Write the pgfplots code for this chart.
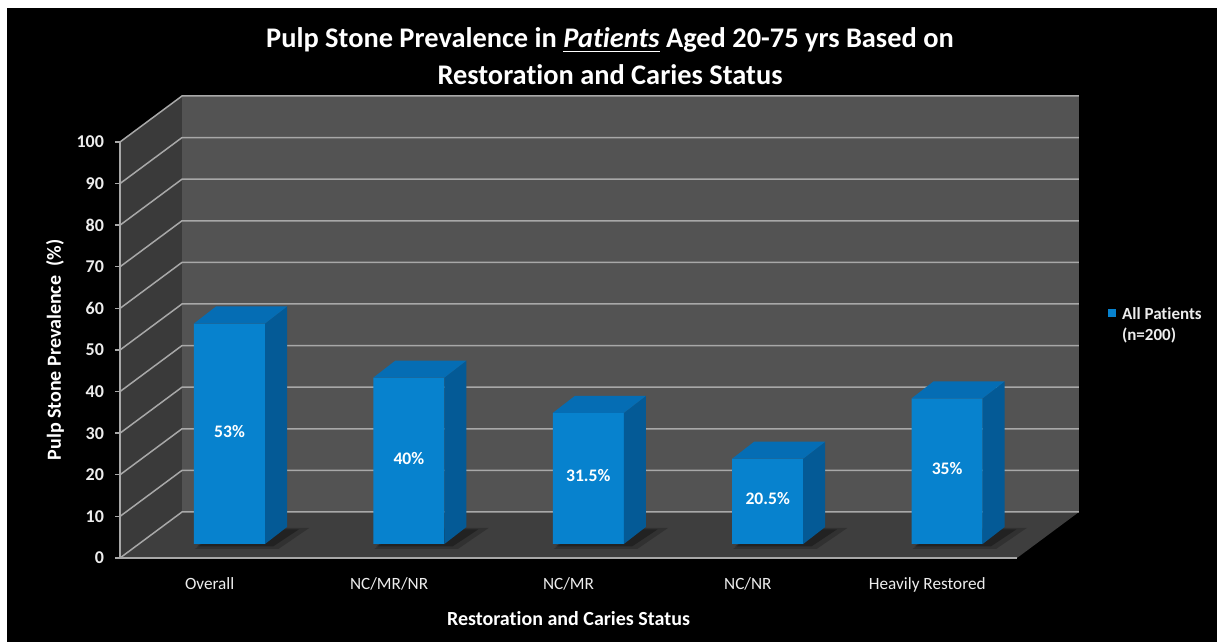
\documentclass[border=0pt]{standalone}
\usepackage{pgfplots}
\pgfplotsset{compat=1.18}
\usepackage{pgfplotstable}
\usepackage{fontspec}
\setmainfont{Carlito}[Ligatures=NoCommon]

\definecolor{wallback}{HTML}{535353}
\definecolor{wallside}{HTML}{3A3A3A}
\definecolor{floorc}{HTML}{3E3E3E}
\definecolor{gridc}{HTML}{A8A8A8}
\definecolor{barfront}{HTML}{0782CE}
\definecolor{bartop}{HTML}{056DB4}
\definecolor{barside}{HTML}{045A96}
\definecolor{ticktext}{HTML}{EDEDED}

% prevalence (%) per restoration / caries group
\pgfplotstableread{
idx v
0 53
1 40
2 31.5
3 20.5
4 35
}\prevalence

% unit vertex lists for the side face, top face and floor shadow of a bar
\pgfplotstableread{
a t
0 0
1 0
1 1
0 1
}\sideface
\pgfplotstableread{
s a
-1 0
1 0
1 1
-1 1
}\topface

\newcommand\hw{0.198}   % half bar width (axis units)
\newcommand\ddx{0.1226} % bar depth, x (axis units)
\newcommand\ddy{4.09}   % bar depth, y (axis units)

% side and top face of bar #2 with value #1
\newcommand\barfaces[2]{%
  \addplot[fill=barside, draw=none, forget plot]
    table[x expr={#2+\hw+\thisrow{a}*\ddx},
          y expr={\thisrow{a}*\ddy+\thisrow{t}*#1}] {\sideface};
  \addplot[fill=bartop, draw=none, forget plot]
    table[x expr={#2+\thisrow{s}*\hw+\thisrow{a}*\ddx},
          y expr={#1+\thisrow{a}*\ddy}] {\topface};
}

\begin{document}
\begin{tikzpicture}[x=0.5pt,y=0.5pt]
\path[use as bounding box] (0,0) rectangle (1217,642);
\fill[white] (0,0) rectangle (1217,642);
\fill[black] (7,0) rectangle (1217,634);

% front plane: walls, floor, value axis and category names
\begin{axis}[
  at={(60pt,42pt)}, anchor=south west,
  width=448.5pt, height=208pt, scale only axis,
  xmin=-0.5, xmax=4.5, ymin=0, ymax=100,
  clip=false,
  axis line style={draw=none},
  xtick={0,...,4},
  xticklabels={Overall, NC/MR/NR, NC/MR, NC/NR, Heavily Restored},
  ytick={0,10,...,100},
  xtick pos=bottom, ytick pos=left,
  tick align=outside, major tick length=2.5pt,
  xtick style={draw=none},
  ytick style={draw=gridc, line width=0.7pt},
  /pgf/number format/assume math mode=true,
  yticklabel style={font=\bfseries\fontsize{9}{9}\selectfont, text=ticktext, xshift=-2pt},
  xticklabel style={font=\fontsize{8.6}{9}\selectfont, text=ticktext, anchor=base, yshift=-13.5pt},
  ylabel={Pulp Stone Prevalence~~(\%)},
  ylabel style={at={(axis description cs:-0.0725,0.5)}, anchor=center,
    font=\bfseries\fontsize{10}{10}\selectfont, text=white},
  xlabel={Restoration and Caries Status},
  xlabel style={at={(axis description cs:0.5,-0.1466)}, anchor=center,
    font=\bfseries\fontsize{10}{10}\selectfont, text=white},
]
\fill[wallside] (axis cs:-0.5,0) -- (axis cs:-0.1544,11.06) -- (axis cs:-0.1544,111.06) -- (axis cs:-0.5,100) -- cycle;
\fill[floorc] (axis cs:-0.5,0) -- (axis cs:4.5,0) -- (axis cs:4.8456,11.06) -- (axis cs:-0.1544,11.06) -- cycle;
\fill[wallback] (axis cs:-0.1544,11.06) rectangle (axis cs:4.8456,111.06);
\pgfplotsinvokeforeach{0,10,...,100}{
  \draw[gridc, line width=0.75pt] (axis cs:-0.5,#1) -- (axis cs:-0.1544,#1+11.06) -- (axis cs:4.8456,#1+11.06);
}
\draw[gridc, line width=0.75pt] (axis cs:-0.5,100) -- (axis cs:-0.5,0) -- (axis cs:4.5,0);
\end{axis}

% bar plane
\begin{axis}[
  at={(69.9pt,49pt)}, anchor=south west,
  width=448.5pt, height=208pt, scale only axis,
  xmin=-0.5, xmax=4.5, ymin=0, ymax=100,
  clip=false, hide axis,
  /pgf/number format/assume math mode=true,
  legend style={at={(axis description cs:1.0794,0.576)}, anchor=north west,
    draw=none, fill=none, inner sep=0pt, outer sep=0pt,
    nodes={inner sep=0pt, anchor=base west}, column sep=3pt,
    font=\bfseries\fontsize{8.5}{10.5}\selectfont, text=ticktext},
]
% soft shadows on the floor
\pgfplotsinvokeforeach{0,...,4}{
  \addplot[fill=black, opacity=0.2, draw=none, forget plot]
    table[x expr={#1+0.04+\thisrow{s}*(\hw+0.035)+\thisrow{a}*(\ddx+0.05)},
          y expr={-1.2+\thisrow{a}*(\ddy+1)}] {\topface};
  \addplot[fill=black, opacity=0.3, draw=none, forget plot]
    table[x expr={#1+0.03+\thisrow{s}*(\hw+0.015)+\thisrow{a}*(\ddx+0.02)},
          y expr={-0.6+\thisrow{a}*\ddy}] {\topface};
}
\addplot[ybar, bar width=0.396, fill=barfront, draw=none,
  legend image code/.code={\fill[barfront] (0pt,1pt) rectangle (4pt,5pt);}]
  table[x=idx, y=v] {\prevalence};
\addlegendentry{\begin{tabular}[t]{@{}l@{}}All Patients\\(n=200)\end{tabular}}
\pgfplotsinvokeforeach{0,...,4}{
  \pgfplotstablegetelem{#1}{v}\of\prevalence
  \expandafter\barfaces\expandafter{\pgfplotsretval}{#1}
}
% value labels in the middle of each bar
\addplot[draw=none, forget plot, point meta=explicit,
  nodes near coords={\pgfmathprintnumber{\pgfplotspointmeta}\%},
  nodes near coords align={anchor=center},
  every node near coord/.append style={anchor=center, text=white,
    font=\bfseries\fontsize{8.8}{9}\selectfont}]
  table[x=idx, y expr={\thisrow{v}/2+0.6}, meta=v] {\prevalence};
\end{axis}

\node[anchor=base, text=white, font=\bfseries\fontsize{14.2}{15}\selectfont] at (610,594)
  {Pulp Stone Prevalence in \underline{\textit{Patients}} Aged 20-75 yrs Based on};
\node[anchor=base, text=white, font=\bfseries\fontsize{14.2}{15}\selectfont] at (610,557)
  {Restoration and Caries Status};
\end{tikzpicture}
\end{document}
